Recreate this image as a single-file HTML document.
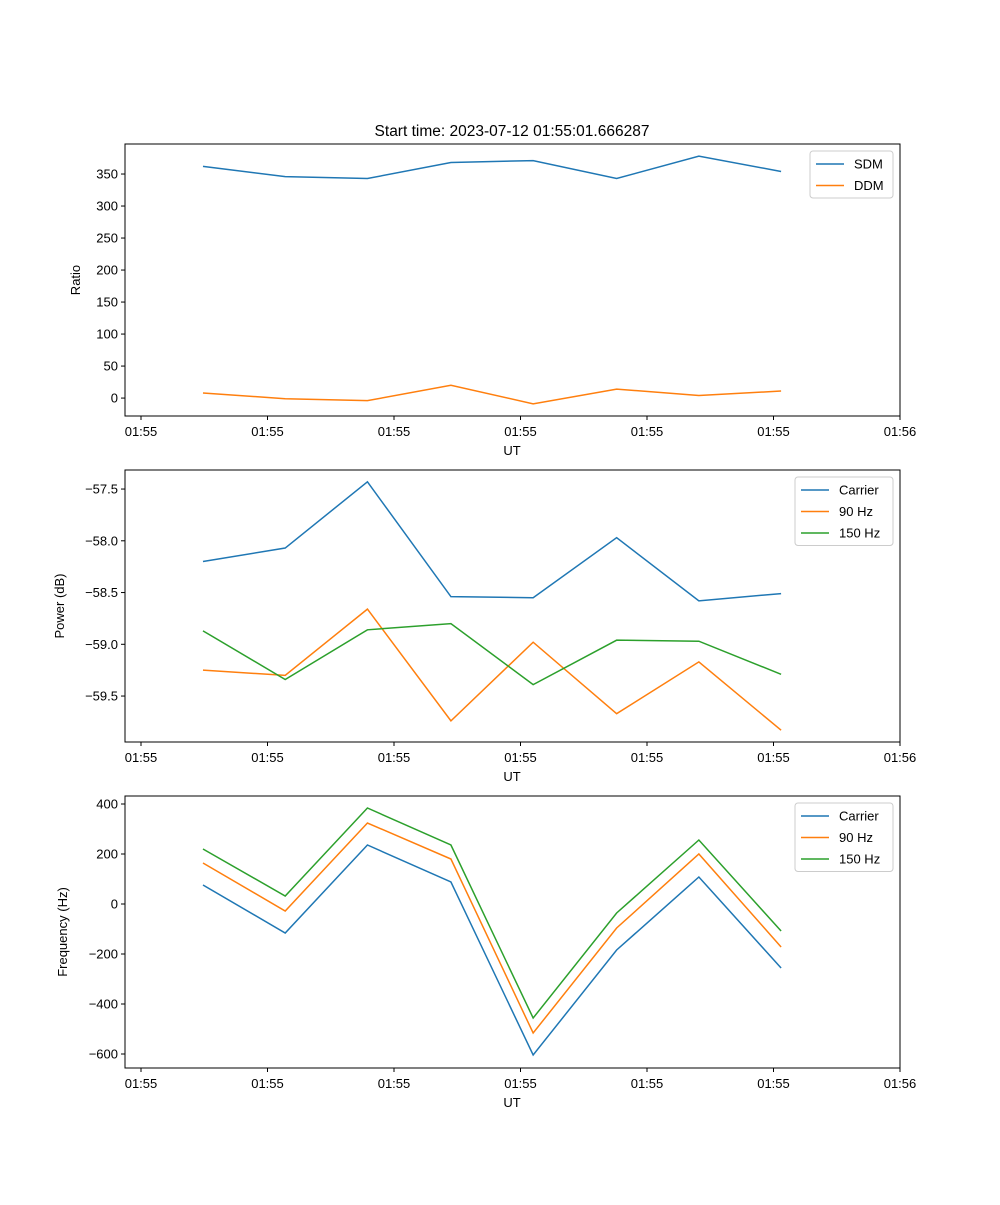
<!DOCTYPE html>
<html><head><meta charset="utf-8"><style>
body{margin:0;background:#fff;}
svg text{font-family:"Liberation Sans","DejaVu Sans",sans-serif;font-size:13px;fill:#000;}
</style></head><body>
<svg id="fig" width="1000" height="1200" xmlns="http://www.w3.org/2000/svg">
<rect width="1000" height="1200" fill="#fff"/>
<text x="512" y="136" text-anchor="middle" style="font-size:15.5px">Start time: 2023-07-12 01:55:01.666287</text>
</svg>
<script>
const times = [4.9, 11.4, 17.9, 24.5, 31.0, 37.6, 44.1, 50.6];
const xTicks = [0, 10, 20, 30, 40, 50, 60];
const xTickLabels = ["01:55","01:55","01:55","01:55","01:55","01:55","01:56"];
const sdm = [362, 346, 343, 368, 371, 343, 378, 354];
const ddm = [8, -1, -4, 20, -9, 14, 4, 11];
const ratioTicks = [0, 50, 100, 150, 200, 250, 300, 350];
const powCarrier = [-58.20, -58.07, -57.43, -58.54, -58.55, -57.97, -58.58, -58.51];
const pow90 = [-59.25, -59.30, -58.66, -59.74, -58.98, -59.67, -59.17, -59.83];
const pow150 = [-58.87, -59.34, -58.86, -58.80, -59.39, -58.96, -58.97, -59.29];
const powTicks = [-59.5, -59.0, -58.5, -58.0, -57.5];
const powTickLabels = ["\u221259.5","\u221259.0","\u221258.5","\u221258.0","\u221257.5"];
const freqCarrier = [76, -116, 236, 88, -604, -184, 108, -256];
const freq90 = [164, -28, 324, 180, -516, -96, 200, -172];
const freq150 = [220, 32, 384, 236, -456, -36, 256, -108];
const freqTicks = [-600, -400, -200, 0, 200, 400];
const freqTickLabels = ["\u2212600","\u2212400","\u2212200","0","200","400"];

const NS="http://www.w3.org/2000/svg";
const svg=document.getElementById('fig');
function mk(tag,attrs,parent){const e=document.createElementNS(NS,tag);for(const k in attrs)e.setAttribute(k,attrs[k]);(parent||svg).appendChild(e);return e;}
const L=125,R=900;
function xs(t){return 141+(t-0)*(900-141)/60;}

function panel(key,top,bot,ymin,ymax,ticks,tickLabels,ylabel,series,legend){
  const g=mk('g',{});
  
  
  const ys=v=>bot-(v-ymin)*(bot-top)/(ymax-ymin);
  series.forEach(s=>{
    const p=mk('polyline',{points:s.vals.map((v,i)=>xs(times[i])+','+ys(v)).join(' '),fill:'none',stroke:s.color,'stroke-width':1.5},g);
    
    
  });
  const fr=mk('rect',{x:L,y:top,width:R-L,height:bot-top,fill:'none',stroke:'#000','stroke-width':1},g);
  
  
  xTicks.forEach((t,i)=>{
    mk('line',{x1:xs(t),x2:xs(t),y1:bot,y2:bot+4,stroke:'#000'},g);
    const tx=mk('text',{x:xs(t),y:bot+20,'text-anchor':'middle'},g);tx.textContent=xTickLabels[i];
    
    
  });
  ticks.forEach((t,i)=>{
    mk('line',{x1:L-4,x2:L,y1:ys(t),y2:ys(t),stroke:'#000'},g);
    const tx=mk('text',{x:L-7,y:ys(t)+4.5,'text-anchor':'end'},g);tx.textContent=tickLabels[i];
    
    
  });
  const xl=mk('text',{x:512,y:bot+39,'text-anchor':'middle'},g);xl.textContent='UT';
  
  
  const yx=legend.ylx;
  const yl=mk('text',{x:yx,y:(top+bot)/2,'text-anchor':'middle',transform:`rotate(-90 ${yx} ${(top+bot)/2})`},g);yl.textContent=ylabel;
  
  
  const lg=mk('g',{},g);
  
  
  const lx=legend.x,ly=top+7,h=series.length*21.5+4;
  mk('rect',{x:lx,y:ly,width:893-lx,height:h,rx:3,fill:'#fff',stroke:'#ccc'},lg);
  series.forEach((s,i)=>{
    const yy=ly+13+i*21.5;
    mk('line',{x1:lx+6,x2:lx+34,y1:yy,y2:yy,stroke:s.color,'stroke-width':1.5},lg);
    const t=mk('text',{x:lx+44,y:yy+4.5},lg);t.textContent=s.label;
    
    
  });
}
const C1='#1f77b4',C2='#ff7f0e',C3='#2ca02c';
panel('ratio',144,416,-28,396.9,ratioTicks,ratioTicks.map(String),'Ratio',
  [{id:'sdm',label:'SDM',vals:sdm,color:C1},{id:'ddm',label:'DDM',vals:ddm,color:C2}],{x:810,ylx:80});
panel('power',470,742,-59.944,-57.316,powTicks,powTickLabels,'Power (dB)',
  [{id:'carrier',label:'Carrier',vals:powCarrier,color:C1},{id:'90hz',label:'90 Hz',vals:pow90,color:C2},{id:'150hz',label:'150 Hz',vals:pow150,color:C3}],{x:795,ylx:64});
panel('frequency',796,1068,-656,432,freqTicks,freqTickLabels,'Frequency (Hz)',
  [{id:'carrier',label:'Carrier',vals:freqCarrier,color:C1},{id:'90hz',label:'90 Hz',vals:freq90,color:C2},{id:'150hz',label:'150 Hz',vals:freq150,color:C3}],{x:795,ylx:67});
</script>
</body></html>
